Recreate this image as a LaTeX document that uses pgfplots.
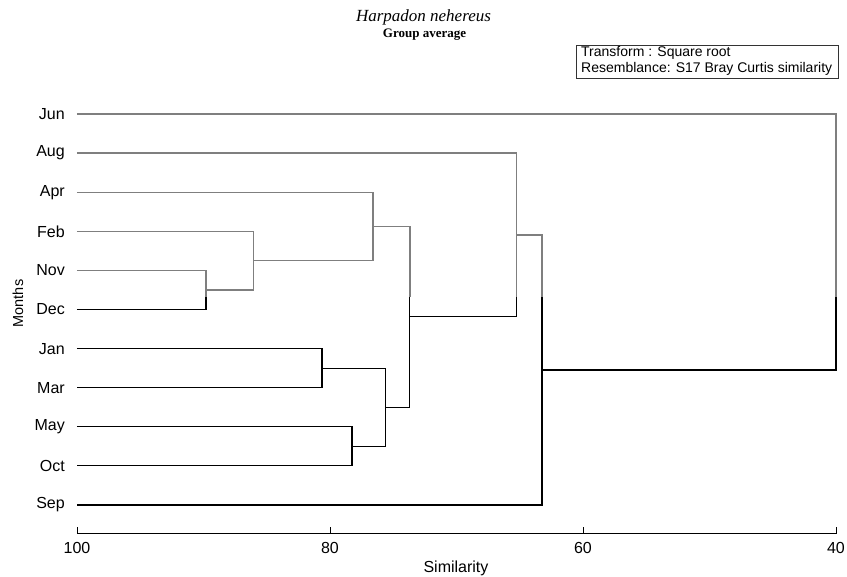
\documentclass[border=0pt]{standalone}
\usepackage{pgfplots}
\pgfplotsset{compat=1.18}
\usepackage{fontspec}
\setmainfont{Liberation Sans}
\newfontfamily\seriffont{Liberation Serif}
\definecolor{dgray}{HTML}{7F7F7F}
\begin{document}
\begin{tikzpicture}[x=1pt,y=1pt]
\useasboundingbox (0,0) rectangle (847,577);
\begin{axis}[
  at={(77pt,43pt)}, anchor=south west,
  scale only axis, width=759pt, height=439.5pt,
  x dir=reverse, xmin=40, xmax=100, ymin=0.2583, ymax=11.5,
  axis x line*=bottom, axis y line*=left,
  x axis line style={-, line width=1pt},
  y axis line style={draw=none},
  ytick={1,2,3,4,5,6,7,8,9,10,11},
  yticklabels={Sep,Oct,May,Mar,Jan,Dec,Nov,Feb,Apr,Aug,Jun},
  ytick style={draw=none},
  xtick={40,60,80,100},
  xtick style={line width=0.8pt, black},
  tick align=inside, major tick length=7pt,
  tick label style={font=\fontsize{16}{18}\selectfont},
  xticklabel style={inner sep=0pt, anchor=north, yshift=-8.5pt},
  yticklabel style={inner sep=0pt, anchor=east, xshift=-12pt},
  /pgf/number format/assume math mode=true,
  clip=false,
  gl/.style={color=dgray, line width=1.4pt, line join=miter},
  bl/.style={color=black, line width=1.1pt, line join=miter},
]
% grey (upper) part
\addplot[gl] coordinates {(100,11) (40,11) (40,6.32)};
\addplot[gl] coordinates {(100,10) (65.24,10) (65.24,6.32)};
\addplot[gl] coordinates {(65.24,7.906) (63.24,7.906) (63.24,6.32)};
\addplot[gl] coordinates {(100,9) (76.6,9) (76.6,7.25) (86.06,7.25)};
\addplot[gl] coordinates {(76.6,8.125) (73.68,8.125) (73.68,6.32)};
\addplot[gl] coordinates {(100,8) (86.06,8) (86.06,6.5) (89.8,6.5)};
\addplot[gl] coordinates {(100,7) (89.8,7) (89.8,6.32)};
% black (lower) part
\addplot[bl] coordinates {(100,6) (89.8,6) (89.8,6.32)};
\addplot[bl] coordinates {(73.68,6.32) (73.68,3.5) (75.6,3.5)};
\addplot[bl] coordinates {(65.24,6.32) (65.24,5.8125) (73.68,5.8125)};
\addplot[bl] coordinates {(63.24,6.32) (63.24,1) (100,1)};
\addplot[bl] coordinates {(63.24,4.453) (40,4.453) (40,6.32)};
\addplot[bl] coordinates {(100,5) (80.63,5) (80.63,4) (100,4)};
\addplot[bl] coordinates {(100,3) (78.26,3) (78.26,2) (100,2)};
\addplot[bl] coordinates {(80.63,4.5) (75.6,4.5) (75.6,2.5) (78.26,2.5)};
\end{axis}
\node[anchor=base, font=\seriffont\itshape\fontsize{17}{19}\selectfont] at (423.5,555) {Harpadon nehereus};
\node[anchor=base, font=\seriffont\bfseries\fontsize{13}{15}\selectfont] at (424.5,539) {Group average};
\draw[line width=0.8pt, black!80] (576,532) rectangle (838,499);
\node[anchor=base west, inner sep=0pt, font=\fontsize{14}{16}\selectfont] at (581,520) {Transform : Square root};
\node[anchor=base west, inner sep=0pt, font=\fontsize{14}{16}\selectfont] at (581,504) {Resemblance: S17 Bray Curtis similarity};
\node[rotate=90, font=\fontsize{14.5}{16}\selectfont] at (18,273.5) {Months};
\node[anchor=base, font=\fontsize{16}{18}\selectfont] at (456,4) {Similarity};
\end{tikzpicture}
\end{document}
